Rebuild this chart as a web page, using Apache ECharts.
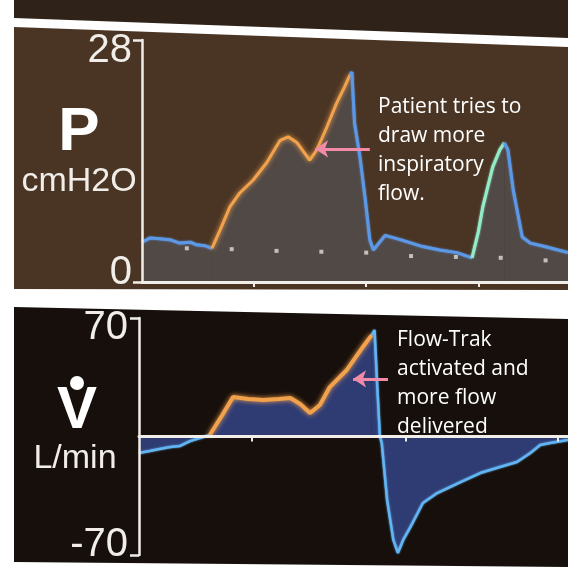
<!DOCTYPE html>
<html><head><meta charset="utf-8">
<script src="https://cdn.jsdelivr.net/npm/echarts@6/dist/echarts.min.js"></script>
<style>html,body{margin:0;padding:0;background:#fff}#c{width:568px;height:571px}</style>
</head><body><div id="c"></div>
<script>
// ---- Pressure trace (cmH2O) against time (s) ----
const pBase1Time = [0.00,0.09,0.20,0.31,0.42,0.54,0.61,0.70,0.78];
const pBase1Val  = [4.6,5.1,5.0,4.9,4.5,4.6,4.3,4.2,3.9];
const pInspTime  = [0.78,0.87,0.98,1.09,1.24,1.39,1.54,1.63,1.73,1.87,1.95,2.06,2.17,2.26,2.32];
const pInspVal   = [3.9,6.0,8.7,10.3,11.8,13.8,16.4,16.8,16.1,14.1,15.3,17.9,20.7,22.6,24.0];
const pExpTime   = [2.32,2.34,2.37,2.43,2.49,2.54,2.58,2.71,2.88,3.13,3.32,3.51,3.68];
const pExpVal    = [24.0,24.3,18.4,14.5,9.5,4.9,3.7,5.4,4.9,4.1,3.7,3.4,2.8];
const pTrigTime  = [3.68,3.75,3.80,3.91,3.99,4.04];
const pTrigVal   = [2.8,5.8,8.7,13.3,15.3,16.1];
const pExp2Time  = [4.04,4.08,4.14,4.24,4.33,4.49,4.75];
const pExp2Val   = [16.1,15.3,10.6,5.2,4.5,4.1,3.4];
const markerTime = [0.5,1.0,1.5,2.0,2.5,3.0,3.5,4.0,4.5];
const markerVal  = [3.9,3.8,3.6,3.5,3.4,3.0,2.9,2.8,2.5];
const pTickTimes = [1.25,2.5,3.75];
const pAxisLabels = ['0','28'];

// ---- Flow trace (L/min) against time (s) ----
const fBase1Time = [0.00,0.12,0.23,0.35,0.46,0.57,0.68,0.79];
const fBase1Val  = [-9.7,-8.6,-7.4,-6.2,-5.6,-2.7,-0.9,0.9];
const fInspTime  = [0.79,0.93,1.05,1.22,1.39,1.56,1.69,1.80,1.91,2.02,2.13,2.32,2.50,2.60];
const fInspVal   = [0.9,12.7,23.3,22.2,21.6,22.2,22.7,19.2,13.9,18.6,29.2,39.3,52.9,60.0];
const fExpTime   = [2.60,2.63,2.66,2.69,2.71,2.77,2.84,2.89,2.95,3.03,3.17,3.33,3.59,3.81,4.03,4.22,4.37,4.48,4.59,4.79];
const fExpVal    = [60.0,62.9,30.0,0.0,-3.8,-37.5,-61.1,-68.8,-61.1,-53.5,-39.3,-33.4,-26.9,-21.6,-18.0,-15.1,-9.7,-5.0,-3.8,-2.1];
const fTickTimes = [1.26,2.98,4.67];
const fAxisLabels = ['-70','70'];

// annotations
const pNote = ['Patient tries to','draw more','inspiratory','flow.'];
const fNote = ['Flow-Trak','activated and','more flow','delivered'];
const pArrow = [[2.54,15.4],[1.93,15.4]];
const fArrow = [[2.78,34.0],[2.39,34.0]];

const zip = (a,b) => a.map((t,i)=>[t,b[i]]);

const C = {
  pBlue:'#5c98e6', orange:'#f2a24c', green:'#93ecc8', fBlue:'#62b4f2',
  pFill:'#514946', fFill:'#2f3c74', pink:'#f28aa8', white:'#f1eeea'
};

function line(name, t, v, color, fill, xi, w, glow) {
  return {
    name, type:'line', xAxisIndex:xi, yAxisIndex:xi, data: zip(t,v),
    showSymbol:false, symbol:'none', smooth:false, animation:false, z:3,
    lineStyle:{color, width:w, shadowBlur: glow?5:2, shadowColor: color},
    areaStyle:{color:fill, opacity:1, shadowBlur:0}
  };
}

const labelFont = {fontFamily:'Liberation Sans', fontSize:40, color:C.white};

const chart = echarts.init(document.getElementById('c'), null, {renderer:'canvas'});
chart.setOption({
  backgroundColor:'#ffffff',
  animation:false,
  grid:[
    {left:142, top:40, right:0, height:242},
    {left:139, top:318, right:0, height:237}
  ],
  xAxis:[
    {type:'value', gridIndex:0, min:0, max:4.75, z:5,
     axisLine:{onZero:false, lineStyle:{color:C.white, width:3}},
     axisTick:{show:true, inside:false, length:5, customValues:pTickTimes, lineStyle:{color:C.white, width:2}},
     axisLabel:{show:false}, splitLine:{show:false}},
    {type:'value', gridIndex:1, min:0, max:4.79, z:5,
     axisLine:{onZero:true, lineStyle:{color:C.white, width:3}},
     axisTick:{show:true, inside:false, length:5, customValues:fTickTimes, lineStyle:{color:C.white, width:2}},
     axisLabel:{show:false}, splitLine:{show:false}}
  ],
  yAxis:[
    {type:'value', gridIndex:0, min:0, max:28, interval:28, z:5,
     axisLine:{show:true, lineStyle:{color:C.white, width:2.5}},
     axisTick:{show:true, length:9, lineStyle:{color:C.white, width:2.5}},
     splitLine:{show:false},
     axisLabel:{margin:10, formatter:v => v===0 ? '{b|'+pAxisLabels[0]+'}' : '{t|'+pAxisLabels[1]+'}',
       rich:{t:Object.assign({padding:[22,0,0,0]},labelFont), b:Object.assign({padding:[0,0,18,0]},labelFont)}}},
    {type:'value', gridIndex:1, min:-70, max:70, interval:70, z:5,
     axisLine:{show:true, onZero:false, lineStyle:{color:C.white, width:2.5}},
     axisTick:{show:true, length:9, customValues:[-70,70], lineStyle:{color:C.white, width:2.5}},
     splitLine:{show:false},
     axisLabel:{margin:11, customValues:[-70,70],
       formatter:v => v===0 ? '' : (v<0 ? '{b|'+fAxisLabels[0]+'}' : '{t|'+fAxisLabels[1]+'}'),
       rich:{t:Object.assign({padding:[20,0,0,0]},labelFont), b:Object.assign({padding:[0,0,20,0]},labelFont)}}}
  ],
  series:[
    line('P base', pBase1Time, pBase1Val, C.pBlue, C.pFill, 0, 3),
    Object.assign(line('P insp', pInspTime, pInspVal, C.orange, C.pFill, 0, 3, true), {
      markLine:{silent:true, symbol:['none','arrow'], symbolSize:[13,13], animation:false,
        label:{show:false}, lineStyle:{color:C.pink, width:3, type:'solid'},
        data:[[{coord:pArrow[0]},{coord:pArrow[1]}]]}
    }),
    line('P exp', pExpTime, pExpVal, C.pBlue, C.pFill, 0, 3),
    line('P trig', pTrigTime, pTrigVal, C.green, C.pFill, 0, 3),
    line('P exp2', pExp2Time, pExp2Val, C.pBlue, C.pFill, 0, 3),
    {type:'scatter', xAxisIndex:0, yAxisIndex:0, data: zip(markerTime, markerVal), symbol:'rect', symbolSize:4,
     itemStyle:{color:'#e2ddd8'}, z:4, silent:true},
    line('F base', fBase1Time, fBase1Val, C.fBlue, C.fFill, 1, 2.5),
    Object.assign(line('F insp', fInspTime, fInspVal, C.orange, C.fFill, 1, 4, true), {
      markLine:{silent:true, symbol:['none','arrow'], symbolSize:[13,13], animation:false,
        label:{show:false}, lineStyle:{color:C.pink, width:3, type:'solid'},
        data:[[{coord:fArrow[0]},{coord:fArrow[1]}]]}
    }),
    line('F exp', fExpTime, fExpVal, C.fBlue, C.fFill, 1, 2.5)
  ],
  graphic:[
    {type:'polygon', z:-10, shape:{points:[[14,0],[568,0],[568,38],[14,18]]}, style:{fill:'#2f2319'}},
    {type:'polygon', z:-10, shape:{points:[[14,27],[568,47],[568,290],[14,289]]}, style:{fill:'#4a3524'}},
    {type:'polygon', z:-10, shape:{points:[[14,307],[568,319],[568,567],[14,562]]}, style:{fill:'#170f0b'}},
    {type:'text', z:50, x:79, y:133, style:{text:'P', fill:'#ffffff', font:'bold 62px "Liberation Sans"', align:'center', verticalAlign:'middle'}},
    {type:'text', z:50, x:79, y:182, style:{text:'cmH2O', fill:C.white, font:'34px "Liberation Sans"', align:'center', verticalAlign:'middle'}},
    {type:'circle', z:50, shape:{cx:77, cy:383, r:7}, style:{fill:'#ffffff'}},
    {type:'text', z:50, x:77, y:411, style:{text:'V', fill:'#ffffff', font:'bold 60px "Liberation Sans"', align:'center', verticalAlign:'middle'}},
    {type:'text', z:50, x:75, y:459, style:{text:'L/min', fill:C.white, font:'34px "Liberation Sans"', align:'center', verticalAlign:'middle'}},
    {type:'text', z:50, x:378, y:93, style:{text:pNote.join('\n'), fill:'#ffffff', font:'21px "Open Sans"', lineHeight:29, align:'left', verticalAlign:'top'}},
    {type:'text', z:50, x:397, y:326, style:{text:fNote.join('\n'), fill:'#ffffff', font:'21px "Open Sans"', lineHeight:29, align:'left', verticalAlign:'top'}}
  ]
});
</script></body></html>
